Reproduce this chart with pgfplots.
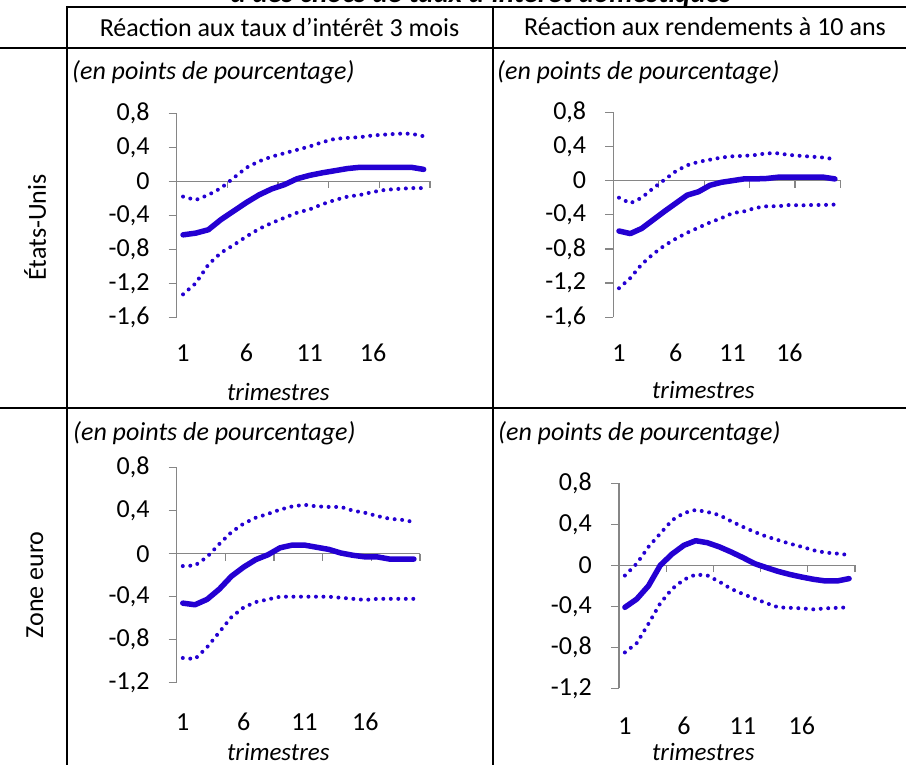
\documentclass[border=0pt]{standalone}
\usepackage{fontspec}
\setmainfont{Carlito}
\usepackage{pgfplots}
\usepackage{pgfplotstable}
\pgfplotsset{compat=1.18}
\definecolor{lineblue}{RGB}{36,0,210}
\definecolor{axgray}{RGB}{134,134,134}

\pgfplotstableread{
t m u l
1 -0.63 -0.18 -1.33
2 -0.61 -0.22 -1.20
3 -0.57 -0.16 -0.98
4 -0.45 -0.08 -0.84
5 -0.35 0.04 -0.75
6 -0.25 0.16 -0.65
7 -0.16 0.235 -0.56
8 -0.09 0.29 -0.49
9 -0.04 0.33 -0.43
10 0.03 0.37 -0.37
11 0.07 0.41 -0.33
12 0.10 0.46 -0.27
13 0.125 0.50 -0.22
14 0.15 0.51 -0.18
15 0.165 0.52 -0.16
16 0.165 0.54 -0.125
17 0.165 0.55 -0.10
18 0.165 0.56 -0.09
19 0.165 0.56 -0.08
20 0.14 0.53 -0.08
}\tl

\pgfplotstableread{
t m u l
1 -0.59 -0.20 -1.26
2 -0.62 -0.265 -1.14
3 -0.56 -0.20 -0.98
4 -0.46 -0.09 -0.86
5 -0.36 0.01 -0.76
6 -0.265 0.11 -0.68
7 -0.17 0.18 -0.61
8 -0.13 0.22 -0.55
9 -0.055 0.245 -0.49
10 -0.02 0.27 -0.44
11 0.0 0.285 -0.38
12 0.02 0.29 -0.36
13 0.02 0.30 -0.32
14 0.025 0.32 -0.30
15 0.04 0.32 -0.30
16 0.04 0.30 -0.285
17 0.04 0.29 -0.29
18 0.04 0.28 -0.285
19 0.04 0.27 -0.285
20 0.02 0.25 -0.28
}\tr

\pgfplotstableread{
t m u l
1 -0.46 -0.115 -0.97
2 -0.475 -0.11 -0.98
3 -0.425 -0.03 -0.87
4 -0.33 0.09 -0.73
5 -0.21 0.20 -0.59
6 -0.125 0.28 -0.50
7 -0.055 0.335 -0.45
8 -0.01 0.37 -0.425
9 0.055 0.41 -0.40
10 0.08 0.44 -0.40
11 0.08 0.455 -0.40
12 0.06 0.44 -0.40
13 0.04 0.435 -0.40
14 0.006 0.435 -0.41
15 -0.015 0.40 -0.42
16 -0.03 0.38 -0.43
17 -0.03 0.35 -0.42
18 -0.05 0.325 -0.42
19 -0.05 0.315 -0.42
20 -0.05 0.295 -0.42
}\bl

\pgfplotstableread{
t m u l
1 -0.41 -0.10 -0.85
2 -0.33 0.016 -0.76
3 -0.20 0.18 -0.57
4 0.0 0.31 -0.37
5 0.11 0.44 -0.23
6 0.195 0.51 -0.14
7 0.24 0.54 -0.09
8 0.22 0.52 -0.10
9 0.18 0.49 -0.16
10 0.13 0.43 -0.23
11 0.075 0.375 -0.28
12 0.016 0.325 -0.325
13 -0.023 0.28 -0.37
14 -0.06 0.245 -0.41
15 -0.09 0.21 -0.415
16 -0.115 0.18 -0.42
17 -0.137 0.146 -0.43
18 -0.153 0.124 -0.42
19 -0.153 0.114 -0.415
20 -0.13 0.10 -0.41
}\br

\pgfplotsset{
  panel/.style={
    scale only axis,
    clip=false,
    xmin=0.5, xmax=20.5,
    axis y line*=left,
    axis x line*=bottom,
    x axis line style={draw=none},
    y axis line style={axgray, line width=1.3pt},
    xtick={1,6,11,16},
    major x tick style={draw=none},
    tick align=outside,
    major tick length=8pt,
    major y tick style={axgray, line width=1.3pt},
    /pgf/number format/assume math mode=true,
    tick label style={font=\fontsize{26}{30}\selectfont},
    xticklabel style={anchor=center, yshift=-27.7pt},
    yticklabel style={anchor=east, inner sep=0pt, xshift=-19pt},
  },
  mean/.style={lineblue, line width=5.5pt, line join=round, line cap=round},
  band/.style={lineblue, line width=4pt, line cap=round, dash pattern=on 0pt off 7.5pt},
}

\newcommand{\zeroaxis}{%
  \draw[axgray, line width=1.3pt] (axis cs:0.5,0) -- (axis cs:20.5,0);
  \pgfplotsinvokeforeach{0.5,4.5,8.5,12.5,16.5,20.5}{%
    \draw[axgray, line width=1.3pt] (axis cs:##1,0) -- ([yshift=-7pt]axis cs:##1,0);}%
}

\begin{document}
\begin{tikzpicture}[font=\fontsize{26}{30}\selectfont]
\path[use as bounding box, clip] (0,0) rectangle (906pt,765pt);

% title (partly cut off at the top)
\node[font=\fontsize{29}{34}\selectfont\bfseries\itshape, anchor=base] at (481pt,762pt) {à des chocs de taux d’intérêt domestiques};

% table lines
\draw[black, line width=2.3pt] (66.7pt,758pt) -- (906pt,758pt);
\draw[black, line width=2.3pt] (0pt,717.3pt) -- (906pt,717.3pt);
\draw[black, line width=2.3pt] (0pt,356.7pt) -- (906pt,356.7pt);
\draw[black, line width=2.3pt] (66.7pt,759pt) -- (66.7pt,0pt);
\draw[black, line width=2.3pt] (492.7pt,759pt) -- (492.7pt,0pt);

% headers
\node at (279.5pt,738pt) {Réaction aux taux d’intérêt 3 mois};
\node at (705pt,738pt) {Réaction aux rendements à 10 ans};
\node[rotate=90] at (35pt,537.5pt) {États-Unis};
\node[rotate=90] at (35pt,180pt) {Zone euro};

% units
\node[anchor=west, inner sep=0pt, font=\fontsize{26}{30}\selectfont\itshape] at (72pt,693pt) {(en points de pourcentage)};
\node[anchor=west, inner sep=0pt, font=\fontsize{26}{30}\selectfont\itshape] at (497pt,693pt) {(en points de pourcentage)};
\node[anchor=west, inner sep=0pt, font=\fontsize{26}{30}\selectfont\itshape] at (73pt,332pt) {(en points de pourcentage)};
\node[anchor=west, inner sep=0pt, font=\fontsize{26}{30}\selectfont\itshape] at (498pt,332pt) {(en points de pourcentage)};

% x labels
\node[font=\fontsize{25}{30}\selectfont\itshape] at (278.3pt,373pt) {trimestres};
\node[font=\fontsize{25}{30}\selectfont\itshape] at (703.3pt,375pt) {trimestres};
\node[font=\fontsize{25}{30}\selectfont\itshape] at (278.3pt,13pt) {trimestres};
\node[font=\fontsize{25}{30}\selectfont\itshape] at (703.3pt,13pt) {trimestres};

% top-left
\begin{axis}[panel, at={(176.7pt,447.7pt)}, anchor=south west, width=253.3pt, height=204pt,
  ymin=-1.6, ymax=0.8, ytick={-1.6,-1.2,-0.8,-0.4,0,0.4,0.8},
  yticklabels={{-1,6},{-1,2},{-0,8},{-0,4},0,{0,4},{0,8}}]
  \zeroaxis
  \addplot[band] table[x=t,y=u] {\tl};
  \addplot[band] table[x=t,y=l] {\tl};
  \addplot[mean] table[x=t,y=m] {\tl};
\end{axis}

% top-right
\begin{axis}[panel, at={(613.3pt,447.7pt)}, anchor=south west, width=227.3pt, height=205pt,
  ymin=-1.6, ymax=0.8, ytick={-1.6,-1.2,-0.8,-0.4,0,0.4,0.8},
  yticklabels={{-1,6},{-1,2},{-0,8},{-0,4},0,{0,4},{0,8}}]
  \zeroaxis
  \addplot[band] table[x=t,y=u] {\tr};
  \addplot[band] table[x=t,y=l] {\tr};
  \addplot[mean] table[x=t,y=m] {\tr};
\end{axis}

% bottom-left
\begin{axis}[panel, at={(176.7pt,82.3pt)}, anchor=south west, width=243.3pt, height=215pt,
  ymin=-1.2, ymax=0.8, ytick={-1.2,-0.8,-0.4,0,0.4,0.8},
  yticklabels={{-1,2},{-0,8},{-0,4},0,{0,4},{0,8}},
  xticklabel style={yshift=-3.6pt}]
  \zeroaxis
  \addplot[band] table[x=t,y=u] {\bl};
  \addplot[band] table[x=t,y=l] {\bl};
  \addplot[mean] table[x=t,y=m] {\bl};
\end{axis}

% bottom-right
\begin{axis}[panel, at={(619pt,76.7pt)}, anchor=south west, width=236pt, height=205pt,
  ymin=-1.2, ymax=0.8, ytick={-1.2,-0.8,-0.4,0,0.4,0.8},
  yticklabels={{-1,2},{-0,8},{-0,4},0,{0,4},{0,8}},
  xticklabel style={yshift=-2pt}]
  \zeroaxis
  \addplot[band] table[x=t,y=u] {\br};
  \addplot[band] table[x=t,y=l] {\br};
  \addplot[mean] table[x=t,y=m] {\br};
\end{axis}
\end{tikzpicture}
\end{document}
